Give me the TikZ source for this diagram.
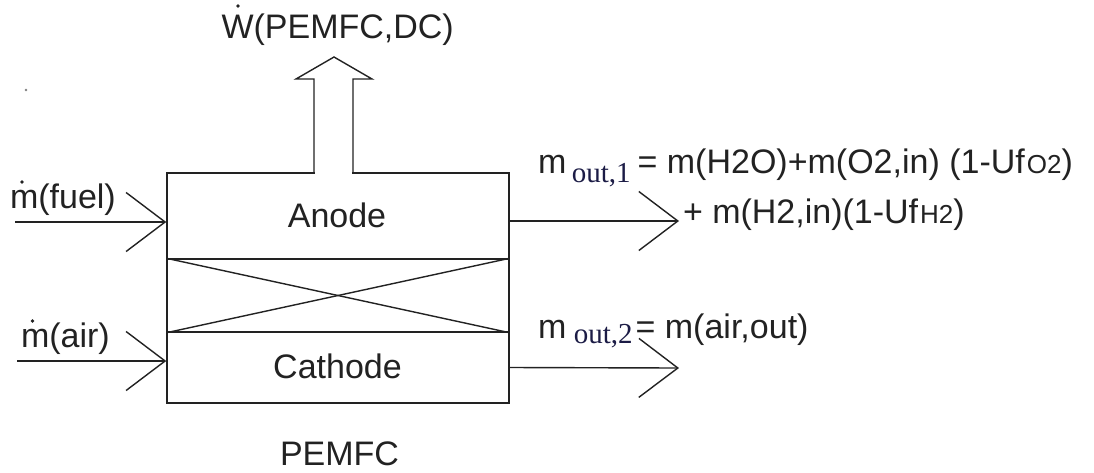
\documentclass[tikz,border=0pt]{standalone}
\usepackage{fontspec}
\setmainfont{Liberation Sans}
\newfontfamily\serifface{Liberation Serif}
\usetikzlibrary{arrows.meta}
\definecolor{ink}{RGB}{34,34,34}
\definecolor{subcol}{RGB}{28,28,70}
\newcommand\mainsize{\fontsize{34}{40}\selectfont}
\newcommand\subtxt[2]{\raisebox{#1}{\fontsize{29}{30}\selectfont\serifface\color{subcol}#2}}
\newcommand\smalltxt[1]{{\fontsize{26}{28}\selectfont #1}}
\tikzset{
  txt/.style={inner sep=0pt, outer sep=0pt, text=ink, font=\mainsize},
  region/.style={draw=ink, line width=1.5pt, minimum width=342pt, inner sep=0pt},
  flow/.style={draw=ink, line width=1.4pt, -{Straight Barb[length=39pt,width=59pt]}},
  thin/.style={draw=ink, line width=1.4pt, line join=miter},
  dotmark/.style={fill=ink},
}
\begin{document}
\begin{tikzpicture}[x=1pt,y=-1pt]
\useasboundingbox[fill=white] (0,0) rectangle (1094,472);

% stray speck
\fill[gray] (26,90) circle (1.3pt);

% fuel cell body
\node[region, minimum height=86pt] (anode) at (338,216) {};
\node[region, minimum height=73pt] (mem) at (338,295.5) {};
\node[region, minimum height=71pt] (cath) at (338,367.5) {};
\draw[thin] (mem.north west) -- (mem.south east);
\draw[thin] (mem.south west) -- (mem.north east);

\node[txt, anchor=base] (anodetxt) at (337,227) {Anode};
\node[txt, anchor=base] (cathtxt) at (337.5,378) {Cathode};
\node[txt, anchor=base] (name) at (339.5,465) {PEMFC};

% power output arrow
\coordinate (sl) at (314,173);
\coordinate (sr) at (353,173);
\coordinate (hl) at (314,79);
\coordinate (wl) at (296,79);
\coordinate (tip) at (334,57);
\coordinate (wr) at (372,79);
\coordinate (hr) at (353,79);
\draw[white, line width=2.2pt] ([xshift=0.8pt]sl) -- ([xshift=-0.8pt]sr);
\draw[thin] (sl) -- (hl) -- (wl) -- (tip) -- (wr) -- (hr) -- (sr);
\node[txt, anchor=base west] (wlab) at (221.5,38) {W(PEMFC,DC)};
\fill[dotmark] (238,6) circle (1.8pt);

% inputs
\coordinate (fuelin) at (15,222);
\coordinate (airin) at (17,361);
\draw[flow] (fuelin) -- ([yshift=-6pt]anode.west);
\draw[flow] (airin) -- ([yshift=6.5pt]cath.west);
\node[txt, anchor=base west] (fuellab) at (10,208) {m(fuel)};
\node[txt, anchor=base west] (airlab) at (21,347) {m(air)};
\fill[dotmark] (22,182) circle (1.8pt);
\fill[dotmark] (32.5,321) circle (1.8pt);

% outputs
\coordinate (out1end) at (679,221);
\coordinate (out2end) at (679,368);
\draw[flow] ([yshift=-5pt]anode.east) -- (out1end);
\draw[flow] (cath.east) -- (out2end);
\node[txt, anchor=base west] (out1) at (538,173)
  {m\kern5.5pt\subtxt{-9pt}{out,1}\kern7pt= m(H2O)+m(O2,in) (1-Uf\kern2pt\smalltxt{O2})};
\node[txt, anchor=base west] (out1b) at (683,223)
  {+ m(H2,in)(1-Uf\kern2pt\smalltxt{H2})};
\node[txt, anchor=base west] (out2) at (538,338)
  {m\kern7.5pt\subtxt{-5pt}{out,2}\kern3pt= m(air,out)};
\end{tikzpicture}
\end{document}
